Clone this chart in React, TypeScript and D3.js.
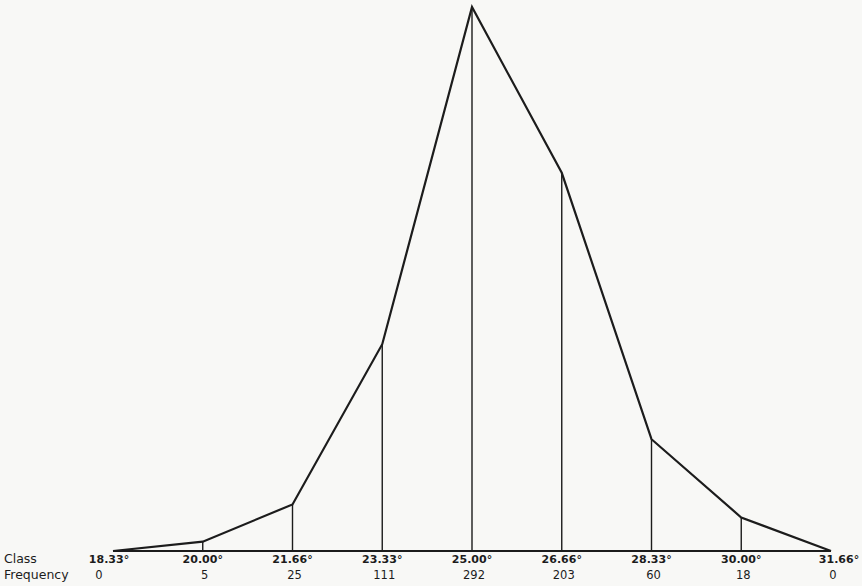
import * as d3 from "d3"

const classes = ["18.33°", "20.00°", "21.66°", "23.33°", "25.00°", "26.66°", "28.33°", "30.00°", "31.66°"]
const frequency = [0, 5, 25, 111, 292, 203, 60, 18, 0]

export default function App() {
    const width = 862
    const height = 586
    const baseY = 551
    const ink = "#1c1c1c"

    const x = d3
        .scaleLinear()
        .domain([0, classes.length - 1])
        .range([113, 831])

    const y = d3
        .scaleLinear()
        .domain([0, 292])
        .range([baseY, 7])

    const polygon = d3
        .line<number>()
        .x((_, i) => x(i))
        .y((d) => y(d))

    return (
        <div style={{ position: "absolute", left: 0, top: 0 }}>
            <svg width={width} height={height} style={{ display: "block", background: "#f8f8f6" }}>
                {/* ordinates */}
                {frequency.map((f, i) =>
                    f > 0 ? (
                        <line
                            key={i}
                            x1={x(i)}
                            x2={x(i)}
                            y1={baseY}
                            y2={y(f)}
                            stroke={ink}
                            strokeWidth={1.4}
                        />
                    ) : null
                )}

                {/* base line */}
                <line x1={x(0)} x2={x(classes.length - 1)} y1={baseY} y2={baseY} stroke={ink} strokeWidth={2} />

                {/* frequency polygon */}
                <path d={polygon(frequency) ?? ""} fill="none" stroke={ink} strokeWidth={2.2} strokeLinejoin="miter" />

                {/* labels */}
                <g fontFamily="'DejaVu Sans', sans-serif" fill={ink}>
                    <text x={4} y={563} fontSize={12.5}>Class</text>
                    <text x={4} y={579} fontSize={12.5}>Frequency</text>
                    {classes.map((c, i) => (
                        <text
                            key={c}
                            x={x(i) + (i === 0 ? -4 : i === classes.length - 1 ? 8 : 0)}
                            y={563}
                            fontSize={11}
                            fontWeight="bold"
                            textAnchor="middle"
                        >
                            {c}
                        </text>
                    ))}
                    {frequency.map((f, i) => (
                        <text
                            key={i}
                            x={x(i) + (i === 0 ? -14 : 2)}
                            y={579}
                            fontSize={11.5}
                            textAnchor="middle"
                        >
                            {f}
                        </text>
                    ))}
                </g>
            </svg>
        </div>
    )
}
